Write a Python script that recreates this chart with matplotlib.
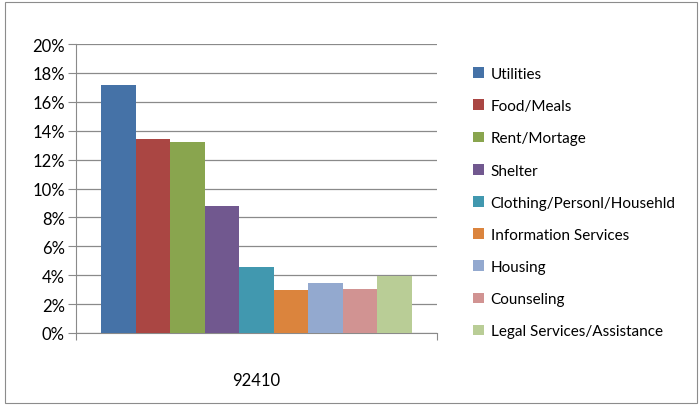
import matplotlib
matplotlib.use("Agg")
from matplotlib import pyplot as plt
from matplotlib.patches import Rectangle
from matplotlib.ticker import PercentFormatter

categories = ["Utilities", "Food/Meals", "Rent/Mortage", "Shelter",
              "Clothing/Personl/Househld", "Information Services", "Housing",
              "Counseling", "Legal Services/Assistance"]
values = [17.15, 13.4, 13.2, 8.8, 4.57, 2.97, 3.45, 3.05, 3.95]
zip_label = "92410"
colors = ["#4572A7", "#AA4643", "#89A54E", "#71588F", "#4198AF",
          "#DB843D", "#93A9CF", "#D19392", "#B9CD96"]

plt.rcParams['font.family'] = ['Lato', 'DejaVu Sans']

fig = plt.figure(figsize=(7, 4.06), dpi=100)
fig.patches.append(Rectangle((5/700, 2/406), 692/700, 401/406, transform=fig.transFigure,
                             fill=False, edgecolor="#8c8c8c", linewidth=0.8))
ax = fig.add_axes([76/700, 1-334/406, 360.7/700, 289/406])

# bars side by side inside the single category
width = 34.55/360.7
start = 25/360.7
for i, (cat, val) in enumerate(zip(categories, values)):
    ax.bar(start + i*width, val, width=width, align="edge", color=colors[i], label=cat, zorder=3)

ax.set_ylim(0, 20)
ax.set_xlim(0, 1)
ax.set_yticks(range(0, 21, 2))
ax.yaxis.set_major_formatter(PercentFormatter(decimals=0))
ax.grid(axis="y", color="#8a8a8a", linewidth=0.9, zorder=0)
ax.set_xticks([0, 1])
ax.set_xticklabels(["", ""])
ax.set_xticks([0.5], minor=True)
ax.set_xticklabels([zip_label], minor=True, fontsize=12)
ax.tick_params(axis="x", which="minor", length=0, pad=28)
ax.tick_params(axis="x", which="major", length=5, color="#8a8a8a", direction="out")
ax.tick_params(axis="y", length=6, color="#8a8a8a", labelsize=12, pad=2)
for s in ["top", "right"]:
    ax.spines[s].set_visible(False)
ax.spines["left"].set_color("#8a8a8a")
ax.spines["bottom"].set_color("#8a8a8a")

fig.legend(loc="upper left", bbox_to_anchor=(473/700, 1-68/406), frameon=False,
           fontsize=11, labelspacing=1.19, handlelength=0.7, handleheight=0.7,
           handletextpad=0.45, borderpad=0, borderaxespad=0)

plt.savefig("out.png", dpi=100)
plt.close()
